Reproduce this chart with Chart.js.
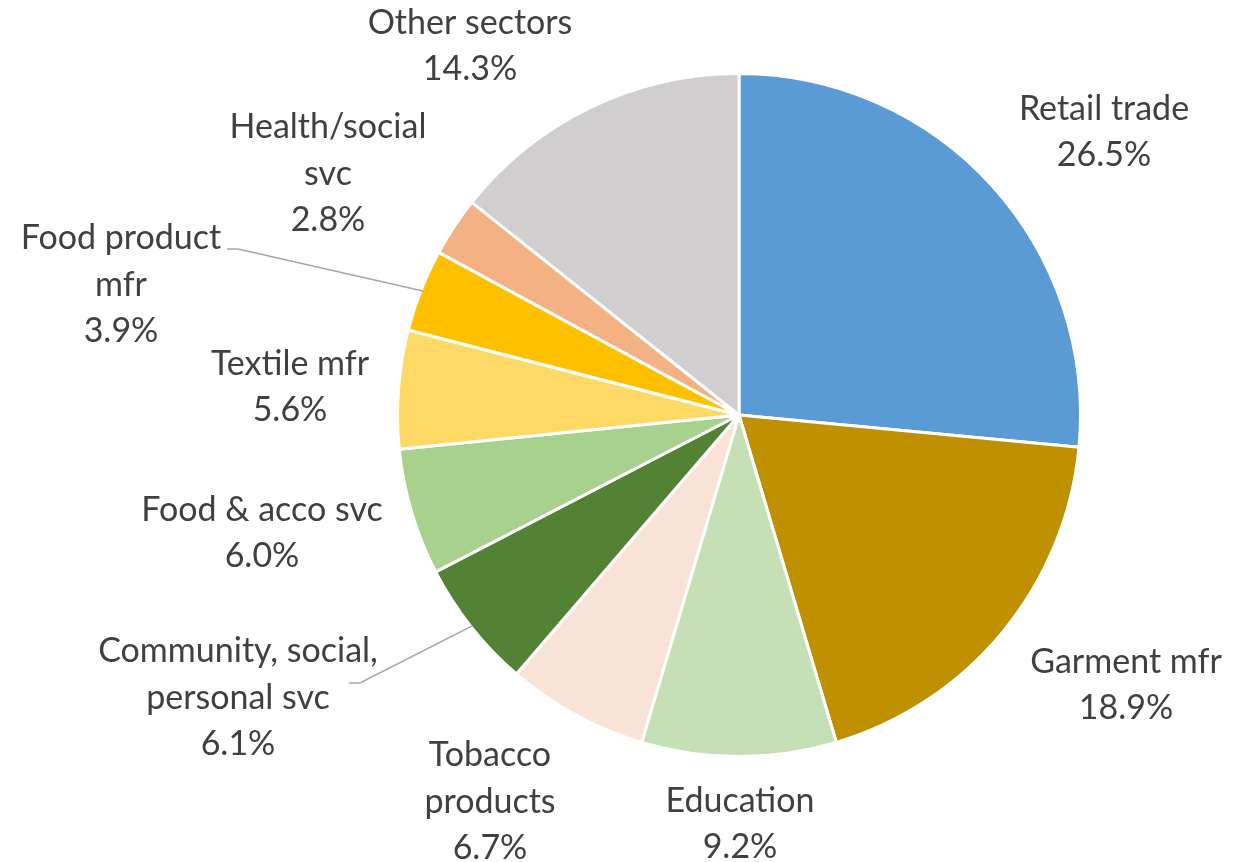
<!DOCTYPE html>
<html>
<head>
<meta charset="utf-8">
<script src="https://cdn.jsdelivr.net/npm/chart.js@4/dist/chart.umd.min.js"></script>
<style>
  html, body { margin: 0; padding: 0; background: #ffffff; }
  #wrap { width: 1251px; height: 862px; position: relative; }
</style>
</head>
<body>
<div id="wrap"><canvas id="pie" width="1251" height="862"></canvas></div>
<script>
// Employment share by sector (%)
const sectors = [
  ['Retail trade'],
  ['Garment mfr'],
  ['Education'],
  ['Tobacco', 'products'],
  ['Community, social,', 'personal svc'],
  ['Food & acco svc'],
  ['Textile mfr'],
  ['Food product', 'mfr'],
  ['Health/social', 'svc'],
  ['Other sectors']
];
const shares = [26.5, 18.9, 9.2, 6.7, 6.1, 6.0, 5.6, 3.9, 2.8, 14.3];
const sliceColors = [
  '#5B9BD5', '#BF9000', '#C5E0B4', '#F9E3D6', '#548235',
  '#A9D18E', '#FFD966', '#FFC000', '#F4B183', '#D0CECE'
];

// Label block centres, relative to the pie centre (px)
const labelOffsets = [
  [365, -283], [387, 270], [1, 409], [-249, 387], [-501, 283],
  [-477, 118], [-449, -28], [-618, -130], [-411, -241], [-269, -369]
];
// Leader line start points (relative to pie centre); null = no leader
const leaderStarts = [
  null, null, null, null, [-390, 268],
  null, null, [-512, -166], null, null
];

const LINE_H = 46.5;
const FONT = '34px Lato, "Open Sans", sans-serif';

const labelPlugin = {
  id: 'sliceLabels',
  afterDatasetsDraw(chart) {
    const ctx = chart.ctx;
    const meta = chart.getDatasetMeta(0);
    ctx.save();
    meta.data.forEach((arc, i) => {
      const cx = arc.x, cy = arc.y;
      // leader line from label to the slice edge
      if (leaderStarts[i]) {
        const mid = (arc.startAngle + arc.endAngle) / 2;
        const ex = cx + Math.cos(mid) * (arc.outerRadius - 2);
        const ey = cy + Math.sin(mid) * (arc.outerRadius - 2);
        const sx = cx + leaderStarts[i][0];
        const sy = cy + leaderStarts[i][1];
        ctx.beginPath();
        ctx.strokeStyle = '#A6A6A6';
        ctx.lineWidth = 1.5;
        ctx.moveTo(sx, sy);
        ctx.lineTo(sx + 11, sy);
        ctx.lineTo(ex, ey);
        ctx.stroke();
      }
      const lines = sectors[i].concat([shares[i].toFixed(1) + '%']);
      const bx = cx + labelOffsets[i][0];
      const by = cy + labelOffsets[i][1];
      ctx.font = FONT;
      ctx.fillStyle = '#404040';
      ctx.textAlign = 'center';
      ctx.textBaseline = 'middle';
      const top = by - (lines.length - 1) * LINE_H / 2;
      lines.forEach((t, k) => ctx.fillText(t, bx, top + k * LINE_H));
    });
    ctx.restore();
  }
};

new Chart(document.getElementById('pie'), {
  type: 'pie',
  data: {
    labels: sectors.map(s => s.join(' ')),
    datasets: [{
      data: shares,
      backgroundColor: sliceColors,
      borderColor: '#ffffff',
      borderWidth: 3
    }]
  },
  options: {
    responsive: false,
    animation: false,
    layout: { padding: { left: 396, right: 169, top: 72, bottom: 104 } },
    plugins: {
      legend: { display: false },
      tooltip: { enabled: false }
    }
  },
  plugins: [labelPlugin]
});
</script>
</body>
</html>
